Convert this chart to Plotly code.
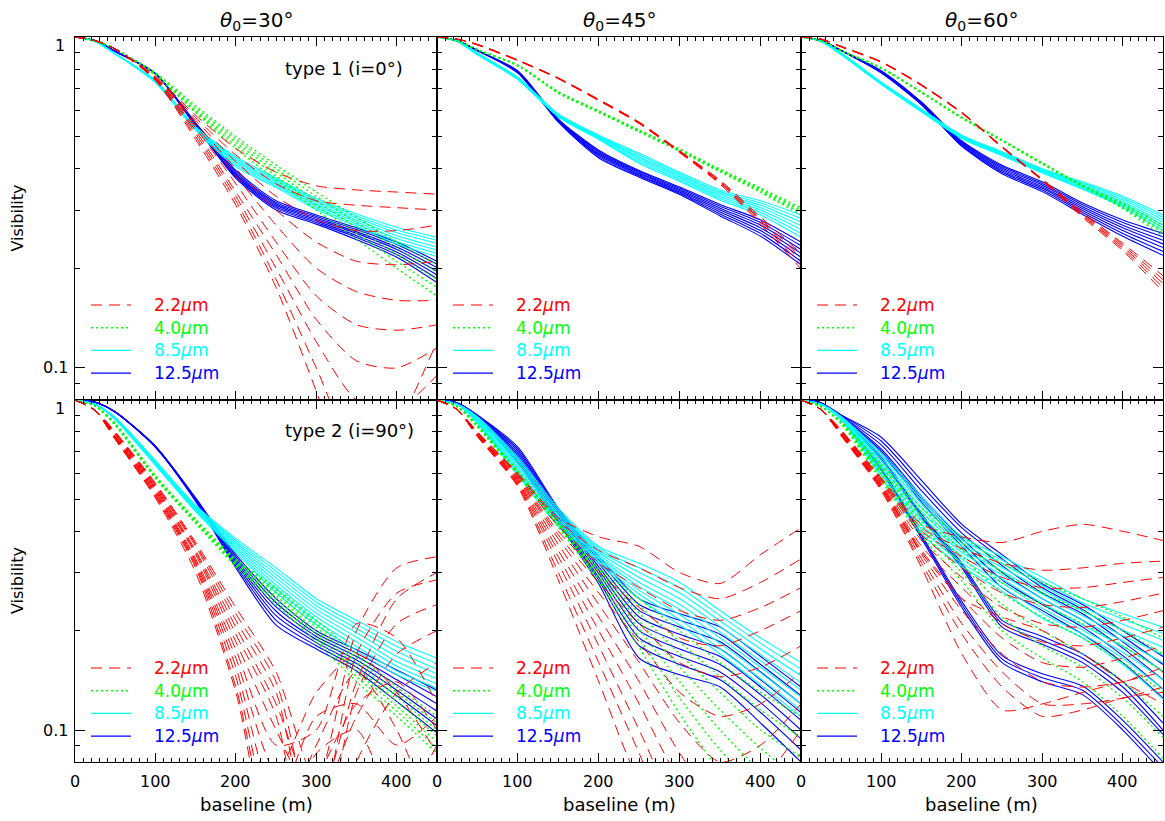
import plotly.graph_objects as go

# Baselines (m) at which every visibility curve is tabulated
BASELINE_M = [0, 25, 50, 100, 150, 200, 250, 300, 350, 400, 450]

WAVELENGTH_LABELS = ["2.2", "4.0", "8.5", "12.5"]
THETA0_DEG = [30, 45, 60]
MODEL_LABELS = ["type 1 (i=0°)", "type 2 (i=90°)"]

# ---------------- type 1 (i=0°) ----------------
V22_T1_30 = [
    [1, .975, .92, .76, .58, .46, .39, .355, .345, .34, .335],
    [1, .975, .92, .755, .57, .44, .36, .32, .31, .305, .30],
    [1, .975, .92, .755, .56, .42, .33, .28, .26, .26, .27],
    [1, .975, .92, .75, .55, .40, .30, .24, .21, .205, .21],
    [1, .975, .92, .75, .54, .38, .27, .20, .17, .16, .16],
    [1, .975, .92, .75, .53, .36, .24, .165, .135, .13, .135],
    [1, .975, .92, .745, .52, .34, .22, .14, .105, .10, .115],
    [1, .975, .92, .745, .51, .33, .20, .12, .08, .075, .095],
    [1, .975, .92, .74, .50, .32, .185, .10, .055, .05, .08],
    [1, .975, .92, .74, .49, .31, .175, .085, .04, .065, .12],
]
V40_T1_30 = [
    [1, .975, .92, .78, .62, .50, .41, .34, .285, .24, .205],
    [1, .975, .92, .775, .61, .49, .40, .33, .275, .23, .195],
    [1, .975, .92, .77, .60, .48, .39, .32, .265, .22, .185],
    [1, .975, .92, .77, .595, .47, .38, .31, .255, .21, .175],
    [1, .975, .92, .765, .59, .46, .37, .30, .245, .20, .165],
]
V85_T1_30 = [
    [1, .97, .89, .74, .535, .435, .375, .325, .292, .266, .248],
    [1, .97, .89, .738, .533, .43, .371, .321, .288, .261, .243],
    [1, .97, .89, .736, .531, .425, .367, .317, .284, .256, .238],
    [1, .97, .89, .734, .529, .42, .363, .313, .28, .251, .232],
    [1, .97, .89, .732, .527, .415, .359, .309, .276, .246, .227],
    [1, .97, .89, .73, .525, .41, .355, .305, .272, .241, .222],
    [1, .97, .89, .728, .523, .405, .351, .301, .268, .237, .217],
]
V125_T1_30 = [
    [1, .975, .905, .775, .55, .395, .32, .29, .265, .24, .21],
    [1, .975, .905, .775, .548, .39, .316, .287, .262, .236, .206],
    [1, .975, .905, .775, .546, .386, .313, .284, .258, .232, .201],
    [1, .975, .905, .775, .544, .383, .31, .281, .255, .228, .196],
    [1, .975, .905, .775, .542, .38, .307, .278, .251, .224, .191],
    [1, .975, .905, .775, .54, .377, .304, .275, .248, .22, .186],
    [1, .975, .905, .775, .538, .374, .30, .272, .244, .216, .181],
]

V22_T1_45 = [
    [1, .985, .95, .852, .752, .648, .553, .453, .369, .286, .222],
    [1, .985, .949, .851, .751, .646, .551, .451, .366, .282, .216],
    [1, .985, .948, .85, .75, .645, .55, .45, .364, .279, .211],
    [1, .985, .947, .849, .749, .644, .549, .449, .362, .276, .205],
    [1, .985, .946, .848, .748, .642, .547, .447, .359, .272, .199],
]
V40_T1_45 = [
    [1, .975, .917, .823, .684, .599, .524, .459, .399, .35, .305],
    [1, .975, .916, .821, .682, .597, .522, .457, .397, .347, .301],
    [1, .975, .915, .82, .68, .595, .52, .455, .395, .345, .298],
    [1, .975, .914, .819, .678, .593, .518, .453, .393, .342, .294],
    [1, .975, .913, .818, .676, .591, .516, .451, .391, .339, .29],
]
V85_T1_45 = [
    [1, .97, .895, .755, .585, .505, .445, .39, .345, .32, .29],
    [1, .97, .893, .753, .583, .502, .44, .386, .341, .315, .283],
    [1, .97, .891, .751, .581, .50, .435, .382, .337, .31, .276],
    [1, .97, .889, .749, .579, .498, .43, .378, .333, .305, .269],
    [1, .97, .887, .747, .577, .495, .425, .374, .329, .30, .262],
    [1, .97, .885, .745, .575, .492, .42, .37, .325, .295, .255],
    [1, .97, .883, .743, .573, .49, .415, .366, .321, .29, .248],
]
V125_T1_45 = [
    [1, .975, .91, .79, .565, .455, .395, .352, .312, .28, .24],
    [1, .975, .91, .788, .563, .451, .392, .349, .308, .275, .234],
    [1, .975, .91, .786, .561, .447, .389, .346, .304, .27, .228],
    [1, .975, .91, .784, .559, .443, .386, .343, .30, .265, .222],
    [1, .975, .91, .782, .557, .439, .383, .34, .296, .26, .216],
    [1, .975, .91, .78, .555, .435, .38, .337, .292, .255, .21],
    [1, .975, .91, .778, .553, .431, .377, .334, .288, .25, .205],
]

V22_T1_60 = [
    [1, .985, .937, .842, .717, .592, .467, .372, .295, .238, .19],
    [1, .985, .936, .841, .716, .591, .466, .371, .293, .235, .185],
    [1, .985, .935, .84, .715, .59, .465, .37, .29, .232, .18],
    [1, .985, .934, .839, .714, .589, .464, .369, .288, .229, .175],
    [1, .985, .933, .838, .713, .588, .463, .368, .285, .226, .17],
]
V40_T1_60 = [
    [1, .975, .912, .807, .682, .572, .489, .417, .357, .315, .27],
    [1, .975, .911, .806, .681, .571, .488, .416, .356, .312, .265],
    [1, .975, .91, .805, .68, .57, .487, .415, .355, .309, .26],
    [1, .975, .909, .804, .679, .569, .486, .414, .354, .306, .255],
    [1, .975, .908, .803, .678, .568, .485, .413, .353, .303, .25],
]
V85_T1_60 = [
    [1, .97, .895, .73, .605, .505, .45, .40, .365, .33, .29],
    [1, .97, .893, .728, .603, .503, .448, .398, .362, .326, .285],
    [1, .97, .891, .726, .601, .501, .446, .396, .359, .322, .28],
    [1, .97, .889, .724, .599, .499, .444, .394, .356, .318, .275],
    [1, .97, .887, .722, .597, .497, .442, .392, .353, .314, .27],
    [1, .97, .885, .72, .595, .495, .44, .39, .35, .31, .265],
    [1, .97, .883, .718, .593, .493, .438, .388, .347, .306, .26],
]
V125_T1_60 = [
    [1, .975, .91, .79, .635, .485, .41, .365, .315, .28, .255],
    [1, .975, .91, .788, .633, .482, .406, .361, .311, .275, .249],
    [1, .975, .91, .786, .631, .479, .402, .357, .307, .27, .243],
    [1, .975, .91, .784, .629, .476, .398, .353, .303, .265, .237],
    [1, .975, .91, .782, .627, .473, .394, .349, .299, .26, .231],
    [1, .975, .91, .78, .625, .47, .39, .345, .295, .255, .225],
    [1, .975, .91, .778, .623, .467, .386, .341, .291, .25, .219],
]

# ---------------- type 2 (i=90°) ----------------
V22_T2_30 = [
    [1, .93, .80, .56, .37, .235, .15, .07, .20, .31, .335],
    [1, .93, .80, .555, .365, .225, .14, .05, .17, .26, .285],
    [1, .93, .795, .55, .36, .215, .13, .04, .13, .21, .24],
    [1, .93, .79, .545, .35, .205, .12, .06, .11, .17, .20],
    [1, .93, .785, .54, .345, .195, .11, .03, .08, .13, .16],
    [1, .93, .78, .535, .34, .185, .10, .06, .14, .25, .30],
    [1, .93, .775, .53, .33, .175, .09, .10, .21, .19, .12],
    [1, .93, .77, .525, .325, .165, .075, .13, .17, .13, .085],
    [1, .93, .77, .52, .32, .155, .06, .11, .12, .09, .11],
    [1, .93, .765, .515, .315, .145, .05, .09, .15, .10, .05],
    [1, .93, .76, .51, .31, .135, .045, .085, .10, .06, .09],
    [1, .93, .76, .505, .30, .13, .04, .07, .12, .14, .10],
]
V40_T2_30 = [
    [1, .96, .85, .59, .435, .33, .27, .215, .17, .135, .11],
    [1, .96, .848, .588, .433, .327, .265, .21, .165, .13, .105],
    [1, .96, .846, .586, .431, .324, .26, .205, .16, .126, .10],
    [1, .96, .844, .584, .429, .321, .255, .20, .155, .122, .096],
    [1, .96, .842, .582, .427, .318, .25, .195, .15, .118, .092],
    [1, .96, .84, .58, .425, .315, .245, .19, .145, .114, .088],
    [1, .96, .838, .578, .423, .312, .24, .185, .14, .11, .085],
]
V85_T2_30 = [
    [1, .97, .885, .655, .48, .38, .31, .25, .215, .185, .165],
    [1, .97, .883, .652, .477, .375, .303, .244, .209, .179, .159],
    [1, .97, .881, .649, .474, .37, .296, .238, .203, .173, .153],
    [1, .97, .879, .646, .471, .365, .289, .232, .197, .167, .148],
    [1, .97, .877, .643, .468, .36, .282, .226, .191, .161, .143],
    [1, .97, .875, .64, .465, .355, .275, .22, .185, .156, .138],
    [1, .97, .873, .637, .462, .35, .268, .214, .179, .151, .134],
    [1, .97, .871, .634, .459, .345, .261, .208, .174, .147, .131],
]
V125_T2_30 = [
    [1, .985, .92, .725, .505, .34, .25, .20, .175, .152, .132],
    [1, .985, .92, .724, .503, .335, .243, .196, .171, .147, .126],
    [1, .985, .92, .723, .501, .33, .236, .192, .167, .142, .12],
    [1, .985, .92, .722, .499, .325, .229, .188, .163, .137, .114],
    [1, .985, .92, .721, .497, .32, .222, .184, .159, .132, .108],
    [1, .985, .92, .72, .495, .315, .215, .18, .155, .127, .103],
    [1, .985, .92, .719, .493, .31, .208, .176, .151, .122, .098],
]

V22_T2_45 = [
    [1, .935, .80, .60, .44, .385, .36, .30, .278, .34, .41],
    [1, .935, .80, .595, .43, .35, .31, .27, .25, .28, .33],
    [1, .935, .80, .59, .415, .32, .27, .23, .215, .235, .27],
    [1, .935, .795, .585, .40, .30, .235, .19, .18, .20, .23],
    [1, .935, .79, .58, .39, .28, .21, .16, .145, .155, .18],
    [1, .935, .79, .575, .38, .26, .185, .13, .11, .12, .15],
    [1, .935, .785, .57, .365, .24, .16, .105, .08, .09, .12],
    [1, .935, .785, .565, .35, .22, .14, .085, .06, .07, .10],
    [1, .935, .78, .56, .335, .20, .12, .07, .05, .06, .085],
    [1, .935, .78, .555, .32, .18, .10, .055, .04, .05, .07],
    [1, .935, .775, .55, .30, .16, .085, .045, .05, .06, .05],
    [1, .935, .775, .545, .285, .14, .07, .05, .07, .08, .06],
]
V40_T2_45 = [
    [1, .955, .84, .61, .43, .31, .25, .20, .16, .13, .11],
    [1, .955, .838, .607, .427, .305, .238, .185, .145, .115, .095],
    [1, .955, .836, .604, .424, .30, .226, .17, .13, .10, .083],
    [1, .955, .834, .601, .421, .295, .214, .155, .115, .088, .07],
    [1, .955, .832, .598, .418, .29, .202, .14, .10, .075, .06],
    [1, .955, .83, .595, .415, .285, .19, .125, .087, .065, .05],
    [1, .955, .828, .592, .412, .28, .178, .112, .075, .055, .042],
]
V85_T2_45 = [
    [1, .97, .89, .67, .47, .36, .32, .28, .23, .19, .16],
    [1, .97, .885, .66, .463, .355, .31, .27, .222, .183, .153],
    [1, .97, .88, .65, .456, .35, .30, .26, .214, .176, .146],
    [1, .97, .875, .64, .449, .345, .29, .25, .206, .169, .139],
    [1, .97, .87, .63, .442, .34, .28, .24, .198, .162, .132],
    [1, .97, .865, .62, .435, .335, .272, .232, .19, .155, .126],
    [1, .97, .86, .61, .428, .33, .265, .224, .183, .149, .12],
    [1, .97, .855, .60, .421, .325, .258, .216, .176, .143, .115],
    [1, .97, .85, .59, .414, .32, .25, .208, .17, .137, .11],
]
V125_T2_45 = [
    [1, .98, .90, .72, .47, .335, .25, .225, .205, .167, .135],
    [1, .98, .90, .71, .465, .328, .24, .215, .195, .158, .127],
    [1, .98, .90, .70, .46, .32, .23, .205, .185, .15, .12],
    [1, .98, .895, .69, .455, .312, .22, .195, .176, .142, .113],
    [1, .98, .895, .68, .45, .305, .21, .185, .167, .135, .107],
    [1, .98, .89, .67, .44, .298, .20, .176, .158, .128, .10],
    [1, .98, .89, .66, .435, .29, .19, .167, .15, .121, .094],
    [1, .98, .885, .65, .43, .284, .18, .158, .142, .113, .087],
    [1, .98, .885, .645, .425, .277, .165, .147, .135, .105, .08],
]

V22_T2_60 = [
    [1, .935, .81, .58, .42, .385, .37, .40, .42, .40, .375],
    [1, .935, .81, .575, .41, .355, .32, .305, .31, .32, .325],
    [1, .935, .805, .57, .40, .335, .29, .27, .27, .28, .29],
    [1, .935, .80, .565, .39, .31, .26, .24, .235, .245, .26],
    [1, .935, .80, .56, .375, .29, .235, .21, .205, .215, .23],
    [1, .935, .795, .555, .36, .27, .21, .185, .18, .19, .205],
    [1, .935, .79, .55, .35, .25, .19, .16, .155, .165, .18],
    [1, .935, .79, .545, .34, .23, .17, .14, .135, .14, .155],
    [1, .935, .785, .54, .33, .21, .15, .12, .12, .125, .135],
    [1, .935, .78, .535, .32, .195, .135, .11, .115, .125, .13],
    [1, .935, .78, .53, .31, .17, .115, .12, .13, .14, .15],
    [1, .935, .785, .545, .345, .25, .22, .20, .17, .14, .12],
]
V40_T2_60 = [
    [1, .955, .86, .64, .47, .385, .32, .28, .25, .22, .19],
    [1, .955, .858, .628, .456, .368, .30, .26, .23, .20, .17],
    [1, .955, .856, .616, .442, .351, .28, .24, .21, .18, .15],
    [1, .955, .854, .604, .428, .334, .26, .22, .19, .16, .13],
    [1, .955, .852, .592, .414, .317, .24, .20, .17, .14, .11],
    [1, .955, .85, .58, .40, .30, .22, .18, .155, .125, .095],
    [1, .955, .848, .568, .386, .283, .20, .165, .14, .11, .082],
]
V85_T2_60 = [
    [1, .97, .89, .69, .51, .385, .335, .29, .25, .225, .205],
    [1, .97, .888, .678, .497, .377, .327, .282, .243, .217, .196],
    [1, .97, .886, .666, .484, .369, .319, .274, .236, .209, .187],
    [1, .97, .884, .654, .471, .361, .311, .266, .229, .201, .178],
    [1, .97, .882, .642, .458, .353, .303, .258, .222, .193, .169],
    [1, .97, .88, .63, .445, .345, .295, .25, .215, .186, .16],
    [1, .97, .878, .618, .432, .337, .287, .242, .208, .179, .151],
    [1, .97, .876, .606, .419, .329, .279, .234, .201, .172, .142],
    [1, .97, .874, .594, .406, .321, .271, .226, .195, .165, .133],
    [1, .97, .872, .582, .393, .313, .263, .218, .19, .158, .124],
]
V125_T2_60 = [
    [1, .98, .90, .77, .57, .42, .34, .277, .24, .20, .167],
    [1, .98, .90, .75, .55, .41, .33, .27, .232, .192, .158],
    [1, .98, .895, .73, .53, .395, .315, .26, .225, .185, .15],
    [1, .98, .895, .71, .51, .38, .30, .25, .215, .177, .142],
    [1, .98, .89, .70, .50, .37, .285, .24, .205, .168, .133],
    [1, .98, .89, .69, .49, .36, .27, .23, .195, .16, .125],
    [1, .98, .885, .67, .45, .32, .215, .192, .17, .14, .105],
    [1, .98, .885, .665, .445, .315, .21, .187, .165, .135, .10],
    [1, .98, .885, .66, .44, .31, .205, .182, .16, .13, .097],
    [1, .98, .875, .62, .39, .245, .168, .148, .136, .107, .08],
    [1, .98, .875, .615, .385, .24, .164, .144, .132, .103, .077],
    [1, .98, .875, .61, .38, .235, .16, .14, .128, .10, .074],
]

PANELS = {
    (0, 0): [V22_T1_30, V40_T1_30, V85_T1_30, V125_T1_30],
    (0, 1): [V22_T1_45, V40_T1_45, V85_T1_45, V125_T1_45],
    (0, 2): [V22_T1_60, V40_T1_60, V85_T1_60, V125_T1_60],
    (1, 0): [V22_T2_30, V40_T2_30, V85_T2_30, V125_T2_30],
    (1, 1): [V22_T2_45, V40_T2_45, V85_T2_45, V125_T2_45],
    (1, 2): [V22_T2_60, V40_T2_60, V85_T2_60, V125_T2_60],
}

# ---------------- styling ----------------
W, H = 1165, 821
FONT = "DejaVu Sans"
COLORS = ["#ff0000", "#00ff00", "#00ffff", "#0000ff"]
DASHES = ["11px,7px", "2px,3px", "solid", "solid"]
WIDTHS = [1.0, 1.4, 1.1, 1.1]
COL_PX = [(75, 437), (437, 801), (801, 1163)]
ROW_PX = [(37, 400), (400, 762)]
LOG_RANGE = [-1.09691, 0.0]


def px_x(p):
    return p / W


def px_y(p):
    return 1 - p / H


fig = go.Figure()
annotations = []
shapes = []
layout_axes = {}


def label(text, x, y, size=16, color="black", xref="paper", yref="paper",
          xanchor="center", yanchor="middle", **kw):
    annotations.append(dict(
        xref=xref, yref=yref, x=x, y=y, xanchor=xanchor, yanchor=yanchor,
        showarrow=False, text=text,
        font=dict(family=FONT, size=size, color=color), **kw))


for (row, col), families in PANELS.items():
    n = row * 3 + col + 1
    sfx = "" if n == 1 else str(n)
    xa, ya = "x" + sfx, "y" + sfx
    # draw longest wavelength first so the shorter ones lie on top
    for k in [3, 2, 1, 0]:
        for curve in families[k]:
            fig.add_trace(go.Scatter(
                x=BASELINE_M, y=curve, mode="lines",
                line=dict(color=COLORS[k], width=WIDTHS[k], dash=DASHES[k],
                          shape="spline", smoothing=0.7),
                xaxis=xa, yaxis=ya, showlegend=False, hoverinfo="skip"))

    l, r = COL_PX[col]
    t, b = ROW_PX[row]
    layout_axes["xaxis" + sfx] = dict(
        domain=[px_x(l), px_x(r)], range=[0, 450], anchor=ya,
        showline=True, linecolor="black", linewidth=1, mirror="ticks",
        ticks="inside", tickvals=[0, 100, 200, 300, 400], ticklen=9,
        tickwidth=1, tickcolor="black", showticklabels=False,
        showgrid=False, zeroline=False,
        minor=dict(tickvals=[v for v in range(10, 450, 10) if v % 100],
                   ticklen=4, ticks="inside", tickcolor="black", tickwidth=1,
                   showgrid=False))
    layout_axes["yaxis" + sfx] = dict(
        domain=[px_y(b), px_y(t)], type="log", range=LOG_RANGE, anchor=xa,
        showline=True, linecolor="black", linewidth=1, mirror="ticks",
        ticks="inside", tickvals=[0.1, 1], ticklen=10, tickwidth=1,
        tickcolor="black", showticklabels=False, showgrid=False, zeroline=False,
        minor=dict(tickvals=[0.08, 0.09, 0.2, 0.3, 0.4, 0.5, 0.6, 0.7, 0.8, 0.9],
                   ticklen=5, ticks="inside", tickcolor="black", tickwidth=1,
                   showgrid=False))

    # column titles
    if row == 0:
        label(f"<i>θ</i><sub>0</sub>={THETA0_DEG[col]}°", 225, px_y(21),
              size=20, xref=xa)
    # baseline tick labels and axis title on the lower row
    if row == 1:
        for v in [0, 100, 200, 300, 400]:
            label(str(v), v, px_y(781), size=16, xref=xa)
        label("baseline (m)", 225, px_y(804), size=18, xref=xa)
    # visibility tick labels and axis title on the left column
    if col == 0:
        label("1", px_x(67), 0, yref=ya, xanchor="right", yshift=-8)
        label("0.1", px_x(70), -1, yref=ya, xanchor="right")
        label("Visibility", px_x(17), px_y((t + b) / 2), textangle=-90)
        label(MODEL_LABELS[row], px_x(l + 208), px_y(t + 31), size=18,
              xanchor="left")

    # per-panel key
    for k in range(4):
        yk = t + 268 + k * 22.7
        shapes.append(dict(
            type="line", xref="paper", yref="paper",
            x0=px_x(l + 16), x1=px_x(l + 56), y0=px_y(yk), y1=px_y(yk),
            line=dict(color=COLORS[k], width=WIDTHS[k], dash=DASHES[k])))
        label(f"{WAVELENGTH_LABELS[k]}<i>μ</i>m", px_x(l + 77), px_y(yk),
              size=17, color=COLORS[k], xanchor="left")

fig.update_layout(
    width=W, height=H, autosize=False,
    margin=dict(l=0, r=0, t=0, b=0),
    paper_bgcolor="white", plot_bgcolor="white",
    showlegend=False, annotations=annotations, shapes=shapes,
    **layout_axes)

fig.write_html("out.html", config={"displayModeBar": False})
